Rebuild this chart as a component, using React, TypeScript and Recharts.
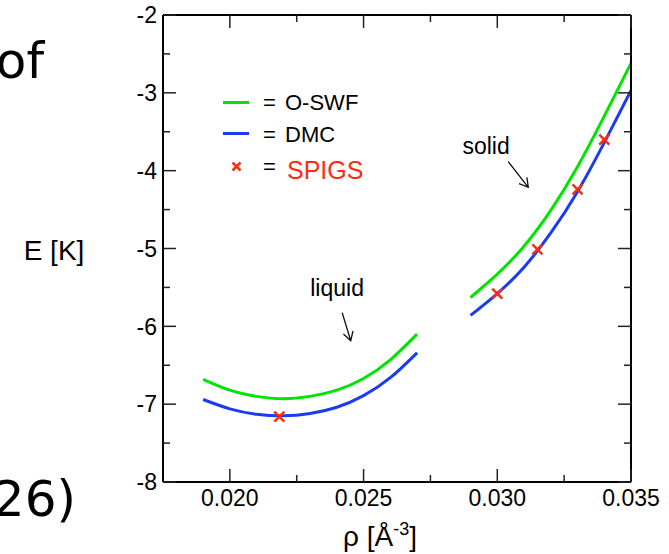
import React from 'react';
import {
  ComposedChart,
  Line,
  Scatter,
  XAxis,
  YAxis,
  ReferenceLine,
  ReferenceDot,
} from 'recharts';

// liquid branch
const liquidRho = [0.019, 0.02, 0.021, 0.022, 0.023, 0.024, 0.025, 0.026, 0.027];
const liquidOswf = [-6.68, -6.82, -6.9, -6.93, -6.9, -6.82, -6.67, -6.43, -6.1];
const liquidDmc = [-6.94, -7.06, -7.13, -7.15, -7.12, -7.04, -6.89, -6.66, -6.34];

// solid branch
const solidRho = [0.029, 0.03, 0.031, 0.032, 0.033, 0.034, 0.035];
const solidOswf = [-5.63, -5.33, -4.97, -4.51, -3.95, -3.3, -2.62];
const solidDmc = [-5.86, -5.58, -5.24, -4.8, -4.27, -3.64, -2.97];

// SPIGS points
const spigsRho = [0.02185, 0.03, 0.0315, 0.033, 0.034];
const spigsE = [-7.16, -5.58, -5.01, -4.24, -3.6];

const xTicks = [0.02, 0.0225, 0.025, 0.0275, 0.03, 0.0325, 0.035];
const xTickLabels = ['0.020', '', '0.025', '', '0.030', '', '0.035'];
const yTicks = [-8, -7.5, -7, -6.5, -6, -5.5, -5, -4.5, -4, -3.5, -3, -2.5, -2];
const yTickLabels = ['-8', '', '-7', '', '-6', '', '-5', '', '-4', '', '-3', '', '-2'];

const GREEN = '#00e400';
const BLUE = '#1a3cf0';
const RED = '#ff2a12';
const FONT = '"Liberation Sans", Arial, Helvetica, sans-serif';

const toRows = (xs: number[], ys: number[]) => xs.map((rho, i) => ({ rho, e: ys[i] }));

const liquidOswfData = toRows(liquidRho, liquidOswf);
const liquidDmcData = toRows(liquidRho, liquidDmc);
const solidOswfData = toRows(solidRho, solidOswf);
const solidDmcData = toRows(solidRho, solidDmc);
const spigsData = toRows(spigsRho, spigsE);

const findIdx = (arr: number[], v: number) => arr.findIndex((t) => Math.abs(t - v) < 1e-9);

const BottomTick = (props: any) => {
  const { x, y, payload } = props;
  const label = xTickLabels[findIdx(xTicks, payload.value)] || '';
  const len = label ? 13 : 7;
  return (
    <g>
      <line x1={x} x2={x} y1={y} y2={y - len} stroke="#222" strokeWidth={1.5} />
      {label && (
        <text x={x} y={y + 24} textAnchor="middle" fontSize={23} fontFamily={FONT} fill="#000">
          {label}
        </text>
      )}
    </g>
  );
};

const TopTick = (props: any) => {
  const { x, y, payload } = props;
  const len = xTickLabels[findIdx(xTicks, payload.value)] ? 13 : 7;
  return <line x1={x} x2={x} y1={y} y2={y + len} stroke="#222" strokeWidth={1.5} />;
};

const LeftTick = (props: any) => {
  const { x, y, payload } = props;
  const label = yTickLabels[findIdx(yTicks, payload.value)] || '';
  const len = label ? 13 : 7;
  return (
    <g>
      <line x1={x} x2={x + len} y1={y} y2={y} stroke="#222" strokeWidth={1.5} />
      {label && (
        <text x={x - 6} y={y} dy="0.36em" textAnchor="end" fontSize={23} fontFamily={FONT} fill="#000">
          {label}
        </text>
      )}
    </g>
  );
};

const RightTick = (props: any) => {
  const { x, y, payload } = props;
  const len = yTickLabels[findIdx(yTicks, payload.value)] ? 13 : 7;
  return <line x1={x} x2={x - len} y1={y} y2={y} stroke="#222" strokeWidth={1.5} />;
};

const Cross = (props: any) => {
  const { cx, cy } = props;
  const s = 5;
  return (
    <g stroke={RED} strokeWidth={2.5}>
      <line x1={cx - s} y1={cy - s} x2={cx + s} y2={cy + s} />
      <line x1={cx - s} y1={cy + s} x2={cx + s} y2={cy - s} />
    </g>
  );
};

const Arrow = (props: any) => {
  const { x1, y1, x2, y2 } = props;
  const a = Math.atan2(y2 - y1, x2 - x1);
  const len = 10;
  const spread = Math.PI / 6;
  const hx1 = x2 - len * Math.cos(a - spread);
  const hy1 = y2 - len * Math.sin(a - spread);
  const hx2 = x2 - len * Math.cos(a + spread);
  const hy2 = y2 - len * Math.sin(a + spread);
  return (
    <path
      d={`M${x1},${y1}L${x2},${y2}M${hx1},${hy1}L${x2},${y2}L${hx2},${hy2}`}
      stroke="#111"
      strokeWidth={1.3}
      fill="none"
    />
  );
};

const phaseLabel = (text: string) => (props: any) => (
  <text x={props.cx} y={props.cy} textAnchor="middle" fontSize={23} fontFamily={FONT} fill="#000">
    {text}
  </text>
);

export default function App() {
  return (
    <div style={{ position: 'absolute', left: 0, top: 0, width: 669, height: 554, background: '#fff' }}>
      <ComposedChart
        width={669}
        height={554}
        margin={{ top: 14, right: 37, bottom: 42, left: 103 }}
      >
        <XAxis
          dataKey="rho"
          type="number"
          domain={[0.0175, 0.035]}
          ticks={xTicks}
          interval={0}
          height={30}
          tickSize={0}
          tickMargin={0}
          tick={<BottomTick />}
          axisLine={{ stroke: '#000', strokeWidth: 2 }}
          allowDataOverflow
        />
        <XAxis
          xAxisId="top"
          orientation="top"
          dataKey="rho"
          type="number"
          domain={[0.0175, 0.035]}
          ticks={xTicks}
          interval={0}
          height={1}
          tickSize={0}
          tickMargin={0}
          tick={<TopTick />}
          axisLine={{ stroke: '#000', strokeWidth: 2 }}
          allowDataOverflow
        />
        <YAxis
          type="number"
          domain={[-8, -2]}
          ticks={yTicks}
          interval={0}
          width={60}
          tickSize={0}
          tickMargin={0}
          tick={<LeftTick />}
          axisLine={{ stroke: '#000', strokeWidth: 2 }}
          allowDataOverflow
        />
        <YAxis
          yAxisId="right"
          orientation="right"
          type="number"
          domain={[-8, -2]}
          ticks={yTicks}
          interval={0}
          width={1}
          tickSize={0}
          tickMargin={0}
          tick={<RightTick />}
          axisLine={{ stroke: '#000', strokeWidth: 2 }}
          allowDataOverflow
        />

        <Line data={liquidOswfData} dataKey="e" type="natural" stroke={GREEN} strokeWidth={3} dot={false} isAnimationActive={false} />
        <Line data={liquidDmcData} dataKey="e" type="natural" stroke={BLUE} strokeWidth={3} dot={false} isAnimationActive={false} />
        <Line data={solidOswfData} dataKey="e" type="natural" stroke={GREEN} strokeWidth={3} dot={false} isAnimationActive={false} />
        <Line data={solidDmcData} dataKey="e" type="natural" stroke={BLUE} strokeWidth={3} dot={false} isAnimationActive={false} />
        <Scatter data={spigsData} dataKey="e" fill={RED} shape={<Cross />} isAnimationActive={false} />

        <ReferenceLine segment={[{ x: 0.0242, y: -5.825 }, { x: 0.02452, y: -6.185 }]} shape={<Arrow />} />
        <ReferenceLine segment={[{ x: 0.03041, y: -3.885 }, { x: 0.03116, y: -4.214 }]} shape={<Arrow />} />
        <ReferenceDot x={0.02401} y={-5.61} r={0} shape={phaseLabel('liquid')} />
        <ReferenceDot x={0.02958} y={-3.786} r={0} shape={phaseLabel('solid')} />
      </ComposedChart>

      <svg
        width={669}
        height={554}
        style={{ position: 'absolute', left: 0, top: 0, pointerEvents: 'none' }}
      >
        {/* legend */}
        <line x1={223} x2={249} y1={102.5} y2={102.5} stroke={GREEN} strokeWidth={3} />
        <text x={263} y={110} fontSize={22} fontFamily={FONT} fill="#000">=</text>
        <text x={285} y={110} fontSize={22} fontFamily={FONT} fill="#000">O-SWF</text>
        <line x1={223} x2={249} y1={133.5} y2={133.5} stroke={BLUE} strokeWidth={3} />
        <text x={263} y={141.5} fontSize={22} fontFamily={FONT} fill="#000">=</text>
        <text x={285} y={141.5} fontSize={22} fontFamily={FONT} fill="#000">DMC</text>
        <g stroke={RED} strokeWidth={2.5}>
          <line x1={232.5} y1={162.5} x2={240.5} y2={170.5} />
          <line x1={232.5} y1={170.5} x2={240.5} y2={162.5} />
        </g>
        <text x={263} y={174} fontSize={22} fontFamily={FONT} fill="#000">=</text>
        <text x={287} y={179} fontSize={25} fontFamily={FONT} fill={RED}>SPIGS</text>

        {/* axis titles */}
        <text x={54} y={250} dy="0.36em" textAnchor="middle" fontSize={28} fontFamily={FONT} fill="#000">
          E [K]
        </text>
        <text x={380} y={546} textAnchor="middle" fontSize={28} fontFamily={FONT} fill="#000">
          ρ [Å
          <tspan fontSize={18} dy={-11}>-3</tspan>
          <tspan dy={11}>]</tspan>
        </text>

        {/* slide fragments, cut at the left edge as in the source */}
        <text x={44} y={78} textAnchor="end" fontSize={50} fontFamily='"DejaVu Sans", sans-serif' fill="#000">of</text>
        <text x={76} y={516} textAnchor="end" fontSize={50} fontFamily='"DejaVu Sans", sans-serif' fill="#000">26)</text>
      </svg>
    </div>
  );
}
